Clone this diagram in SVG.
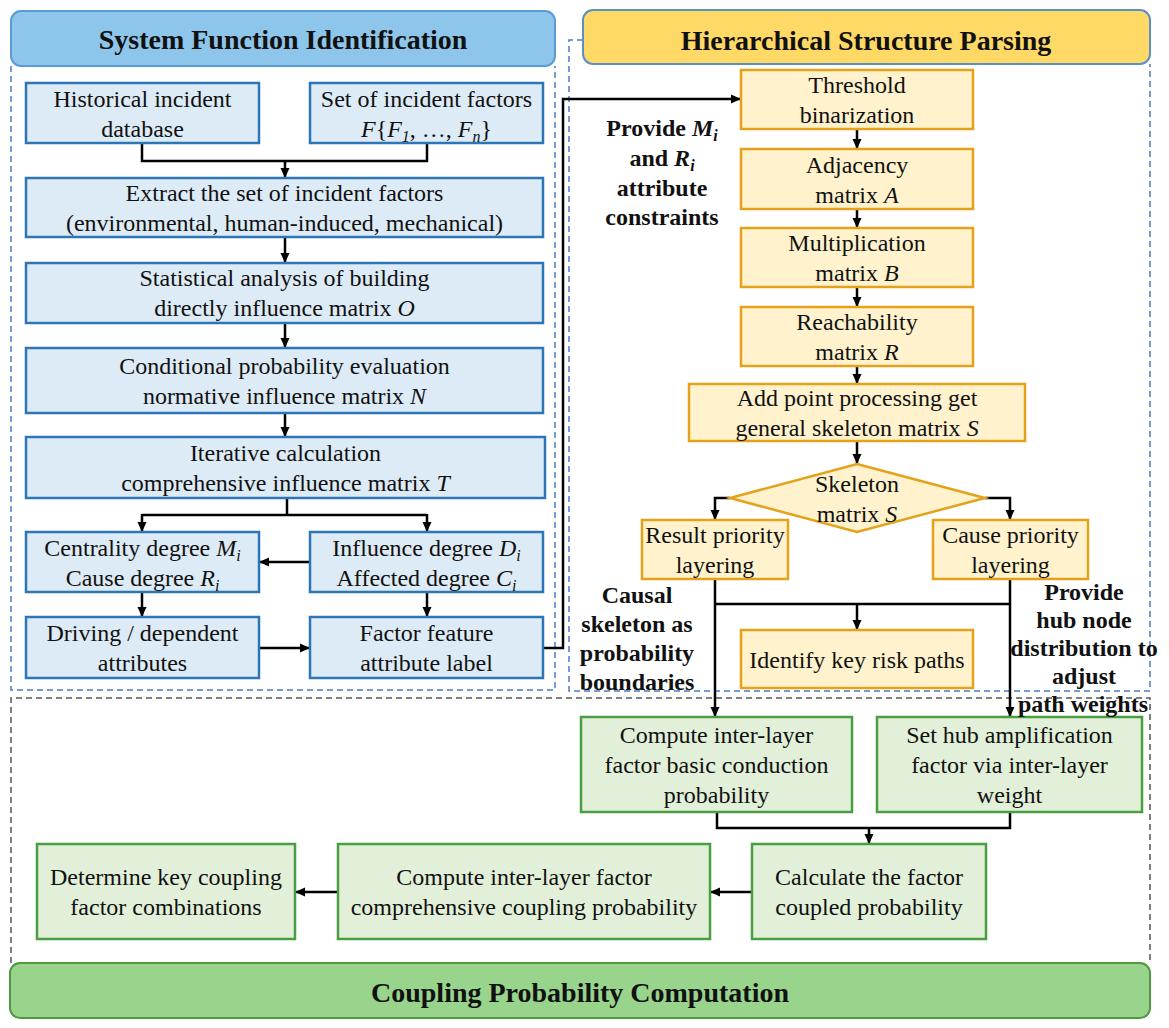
<svg xmlns="http://www.w3.org/2000/svg" width="1169" height="1028" viewBox="0 0 1169 1028">
<defs>
<marker id="arr" markerUnits="userSpaceOnUse" markerWidth="10" markerHeight="10" refX="10" refY="5" orient="auto">
<path d="M0,0.5 L10,5 L0,9.5 z" fill="#000"/>
</marker>
<style>
text{font-family:"Liberation Serif","Times New Roman",serif;font-size:24px;fill:#111;text-anchor:middle}
.hd{font-size:28px;font-weight:bold}
.lb{font-weight:bold}
.it{font-style:italic}
.sb{font-size:16px;font-style:italic}
.bx{fill:#DDEBF7;stroke:#2E75B6;stroke-width:2.5}
.yx{fill:#FFF2CC;stroke:#E3A21A;stroke-width:2.5}
.gx{fill:#E2F0D9;stroke:#4A9E42;stroke-width:2.5}
.dsb{fill:none;stroke:#4A7CC6;stroke-width:1.5;stroke-dasharray:6 4}
.dsg{fill:none;stroke:#555;stroke-width:1.5;stroke-dasharray:6 4}
.cn{fill:none;stroke:#000;stroke-width:2.5}
.ca{fill:none;stroke:#000;stroke-width:2.5;marker-end:url(#arr)}
</style>
</defs>
<rect width="1169" height="1028" fill="#fff"/>

<g id="containers">
<path class="dsb" d="M11,66 V690 H555 V66"/>
<path class="dsb" d="M583,40 H569 V691 H1150 V64"/>
<path class="dsg" d="M11,963 V698 H1150 V963"/>
</g>

<g id="header-sfi">
<rect x="11" y="11" width="544" height="55" rx="10" fill="#8EC5EA" stroke="#5B9BD5" stroke-width="2"/>
<text class="hd" x="283" y="49">System Function Identification</text>
</g>
<g id="header-hsp">
<rect x="583" y="10" width="567" height="54" rx="10" fill="#FFD966" stroke="#5B8FC8" stroke-width="2"/>
<text class="hd" x="866" y="50">Hierarchical Structure Parsing</text>
</g>
<g id="header-cpc">
<rect x="10" y="963" width="1140" height="55" rx="10" fill="#98D48C" stroke="#4E9A3E" stroke-width="2"/>
<text class="hd" x="580" y="1002">Coupling Probability Computation</text>
</g>

<g id="connectors">
<path class="cn" d="M142,143 V161 H427 V143"/>
<path class="ca" d="M285,161 V178"/>
<path class="ca" d="M285,237 V263"/>
<path class="ca" d="M285,323 V348"/>
<path class="ca" d="M285,413 V437"/>
<path class="cn" d="M287,498 V515 M142,515 H427"/>
<path class="ca" d="M142,514 V532"/>
<path class="ca" d="M427,514 V532"/>
<path class="ca" d="M310,562 H259"/>
<path class="ca" d="M142,592 V617"/>
<path class="ca" d="M427,592 V617"/>
<path class="ca" d="M259,648 H310"/>
<path class="ca" d="M543,648 H563 V99 H741"/>
<path class="ca" d="M857,129 V149"/>
<path class="ca" d="M857,209 V228"/>
<path class="ca" d="M857,287 V307"/>
<path class="ca" d="M857,366 V384"/>
<path class="ca" d="M857,441 V464"/>
<path class="ca" d="M730,498 H715 V520"/>
<path class="ca" d="M985,498 H1010 V520"/>
<path class="cn" d="M715,604 H1010"/>
<path class="ca" d="M715,579 V717"/>
<path class="ca" d="M1010,579 V717"/>
<path class="ca" d="M857,604 V630"/>
<path class="cn" d="M717,812 V828 H1010 V812"/>
<path class="ca" d="M869,828 V844"/>
<path class="ca" d="M752,892 H710"/>
<path class="ca" d="M338,892 H295"/>
</g>

<g id="n-hist">
<rect class="bx" x="26" y="83" width="233" height="60"/>
<text x="142.5" y="107">Historical incident</text>
<text x="142.5" y="137">database</text>
</g>
<g id="n-set">
<rect class="bx" x="310" y="83" width="233" height="60"/>
<text x="426.5" y="107">Set of incident factors</text>
<text x="426.5" y="137"><tspan class="it">F</tspan>{<tspan class="it">F</tspan><tspan class="sb" dy="5">1</tspan><tspan dy="-5">, …, </tspan><tspan class="it">F</tspan><tspan class="sb" dy="5">n</tspan><tspan dy="-5">}</tspan></text>
</g>
<g id="n-extract">
<rect class="bx" x="26" y="178" width="517" height="59"/>
<text x="284.5" y="201">Extract the set of incident factors</text>
<text x="284.5" y="231">(environmental, human-induced, mechanical)</text>
</g>
<g id="n-stat">
<rect class="bx" x="26" y="263" width="517" height="60"/>
<text x="284.5" y="286">Statistical analysis of building</text>
<text x="284.5" y="316">directly influence matrix <tspan class="it">O</tspan></text>
</g>
<g id="n-cond">
<rect class="bx" x="26" y="348" width="517" height="65"/>
<text x="284.5" y="374">Conditional probability evaluation</text>
<text x="284.5" y="404">normative influence matrix <tspan class="it">N</tspan></text>
</g>
<g id="n-iter">
<rect class="bx" x="26" y="437" width="519" height="61"/>
<text x="285.5" y="461">Iterative calculation</text>
<text x="285.5" y="491">comprehensive influence matrix <tspan class="it">T</tspan></text>
</g>
<g id="n-central">
<rect class="bx" x="26" y="532" width="233" height="60"/>
<text x="142.5" y="556">Centrality degree <tspan class="it">M</tspan><tspan class="sb" dy="5">i</tspan></text>
<text x="142.5" y="586">Cause degree <tspan class="it">R</tspan><tspan class="sb" dy="5">i</tspan></text>
</g>
<g id="n-influence">
<rect class="bx" x="310" y="532" width="233" height="60"/>
<text x="426.5" y="556">Influence degree <tspan class="it">D</tspan><tspan class="sb" dy="5">i</tspan></text>
<text x="426.5" y="586">Affected degree <tspan class="it">C</tspan><tspan class="sb" dy="5">i</tspan></text>
</g>
<g id="n-driving">
<rect class="bx" x="26" y="617" width="233" height="61"/>
<text x="142.5" y="641">Driving / dependent</text>
<text x="142.5" y="671">attributes</text>
</g>
<g id="n-factor">
<rect class="bx" x="310" y="617" width="233" height="61"/>
<text x="426.5" y="641">Factor feature</text>
<text x="426.5" y="671">attribute label</text>
</g>

<g id="n-threshold">
<rect class="yx" x="741" y="70" width="232" height="59"/>
<text x="857" y="93">Threshold</text>
<text x="857" y="123">binarization</text>
</g>
<g id="n-adj">
<rect class="yx" x="741" y="149" width="232" height="60"/>
<text x="857" y="173">Adjacency</text>
<text x="857" y="203">matrix <tspan class="it">A</tspan></text>
</g>
<g id="n-mult">
<rect class="yx" x="741" y="228" width="232" height="59"/>
<text x="857" y="251">Multiplication</text>
<text x="857" y="281">matrix <tspan class="it">B</tspan></text>
</g>
<g id="n-reach">
<rect class="yx" x="741" y="307" width="232" height="59"/>
<text x="857" y="330">Reachability</text>
<text x="857" y="360">matrix <tspan class="it">R</tspan></text>
</g>
<g id="n-addpoint">
<rect class="yx" x="689" y="384" width="336" height="57"/>
<text x="857" y="406">Add point processing get</text>
<text x="857" y="436">general skeleton matrix <tspan class="it">S</tspan></text>
</g>
<g id="n-skeleton">
<path class="yx" d="M857,464 L985,498 L857,532 L730,498 Z"/>
<text x="857" y="492">Skeleton</text>
<text x="857" y="522">matrix <tspan class="it">S</tspan></text>
</g>
<g id="n-result">
<rect class="yx" x="642" y="520" width="146" height="59"/>
<text x="715" y="543">Result priority</text>
<text x="715" y="573">layering</text>
</g>
<g id="n-cause">
<rect class="yx" x="933" y="520" width="155" height="59"/>
<text x="1010.5" y="543">Cause priority</text>
<text x="1010.5" y="573">layering</text>
</g>
<g id="n-identify">
<rect class="yx" x="741" y="630" width="232" height="58"/>
<text x="857" y="668">Identify key risk paths</text>
</g>

<g id="n-compute-basic">
<rect class="gx" x="581" y="717" width="271" height="95"/>
<text x="716.5" y="743">Compute inter-layer</text>
<text x="716.5" y="773">factor basic conduction</text>
<text x="716.5" y="803">probability</text>
</g>
<g id="n-sethub">
<rect class="gx" x="877" y="717" width="265" height="95"/>
<text x="1009.5" y="743">Set hub amplification</text>
<text x="1009.5" y="773">factor via inter-layer</text>
<text x="1009.5" y="803">weight</text>
</g>
<g id="n-calc">
<rect class="gx" x="752" y="844" width="234" height="95"/>
<text x="869" y="885">Calculate the factor</text>
<text x="869" y="915">coupled probability</text>
</g>
<g id="n-compute-comp">
<rect class="gx" x="338" y="844" width="372" height="95"/>
<text x="524" y="885">Compute inter-layer factor</text>
<text x="524" y="915">comprehensive coupling probability</text>
</g>
<g id="n-determine">
<rect class="gx" x="37" y="844" width="258" height="95"/>
<text x="166" y="885">Determine key coupling</text>
<text x="166" y="915">factor combinations</text>
</g>

<g id="labels">
<text class="lb" x="662" y="136">Provide <tspan class="it">M</tspan><tspan class="sb" dy="5">i</tspan></text>
<text class="lb" x="662" y="166">and <tspan class="it">R</tspan><tspan class="sb" dy="5">i</tspan></text>
<text class="lb" x="662" y="196">attribute</text>
<text class="lb" x="662" y="225">constraints</text>
<text class="lb" x="637" y="603">Causal</text>
<text class="lb" x="637" y="632">skeleton as</text>
<text class="lb" x="637" y="661">probability</text>
<text class="lb" x="637" y="690">boundaries</text>
<text class="lb" x="1084" y="600">Provide</text>
<text class="lb" x="1084" y="628">hub node</text>
<text class="lb" x="1084" y="656">distribution to</text>
<text class="lb" x="1084" y="684">adjust</text>
<text class="lb" x="1083" y="712">path weights</text>
</g>
</svg>
